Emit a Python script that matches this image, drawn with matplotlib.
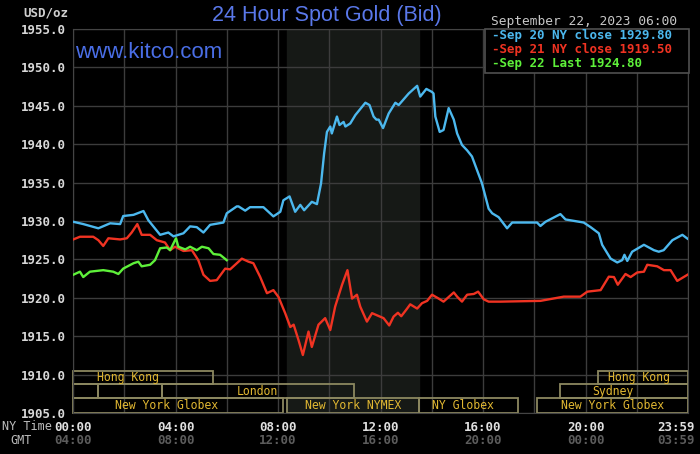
import matplotlib
matplotlib.use('Agg')
import matplotlib.pyplot as plt
from matplotlib.patches import Rectangle
import matplotlib.transforms as mtransforms

# 讀圖估計的數值 (NY time, hours)
blue_h = [0.01, 0.40, 0.99, 1.45, 1.84, 1.96, 2.36, 2.75, 2.94, 3.40, 3.72, 3.92, 4.31, 4.57,
          4.83, 5.09, 5.35, 5.87, 6.00, 6.39, 6.46, 6.72, 6.91, 7.43, 7.82, 8.09, 8.21, 8.45,
          8.67, 8.87, 9.02, 9.32, 9.52, 9.68, 9.80, 9.91, 10.04, 10.10, 10.30, 10.40, 10.56,
          10.63, 10.82, 11.02, 11.41, 11.57, 11.73, 11.84, 11.93, 12.10, 12.32, 12.58, 12.71,
          13.10, 13.43, 13.55, 13.79, 14.01, 14.07, 14.14, 14.31, 14.46, 14.66, 14.86, 14.99,
          15.18, 15.38, 15.57, 15.77, 15.96, 16.22, 16.36, 16.61, 16.94, 17.14, 18.11, 18.24,
          18.44, 19.02, 19.22, 19.93, 20.20, 20.52, 20.65, 20.98, 21.24, 21.43, 21.52, 21.63,
          21.82, 22.28, 22.67, 22.86, 23.05, 23.39, 23.78, 23.98]
blue_p = [1929.9, 1929.6, 1929.05, 1929.7, 1929.6, 1930.65, 1930.8, 1931.3, 1930.1, 1928.2,
          1928.5, 1928.0, 1928.4, 1929.3, 1929.2, 1928.5, 1929.5, 1929.8, 1931.0, 1931.9,
          1931.9, 1931.35, 1931.8, 1931.8, 1930.6, 1931.2, 1932.7, 1933.2, 1931.2, 1932.1,
          1931.4, 1932.5, 1932.2, 1934.9, 1938.8, 1941.6, 1942.3, 1941.4, 1943.6, 1942.5,
          1942.9, 1942.3, 1942.7, 1943.8, 1945.4, 1945.1, 1943.6, 1943.2, 1943.2, 1942.1,
          1944.0, 1945.4, 1945.1, 1946.6, 1947.6, 1946.2, 1947.2, 1946.8, 1946.6, 1943.6,
          1941.6, 1941.85, 1944.7, 1943.2, 1941.4, 1939.9, 1939.2, 1938.4, 1936.6, 1934.9,
          1931.6, 1931.0, 1930.5, 1929.05, 1929.8, 1929.8, 1929.35, 1929.9, 1930.9, 1930.2,
          1929.8, 1929.2, 1928.4, 1926.9, 1925.1, 1924.6, 1924.9, 1925.6, 1924.8, 1926.0,
          1926.9, 1926.2, 1926.0, 1926.2, 1927.5, 1928.2, 1927.7]

red_h = [0.01, 0.27, 0.79, 0.99, 1.18, 1.38, 1.84, 2.10, 2.29, 2.51, 2.68, 3.01, 3.27, 3.59,
         3.79, 3.98, 4.31, 4.64, 4.89, 5.09, 5.35, 5.61, 5.94, 6.13, 6.59, 6.85, 7.04, 7.30,
         7.57, 7.82, 8.02, 8.28, 8.48, 8.61, 8.80, 8.97, 9.19, 9.32, 9.58, 9.84, 10.04, 10.23,
         10.50, 10.71, 10.89, 11.08, 11.21, 11.47, 11.67, 12.12, 12.34, 12.51, 12.68, 12.81,
         13.04, 13.16, 13.43, 13.62, 13.82, 14.01, 14.27, 14.46, 14.66, 14.86, 14.99, 15.18,
         15.38, 15.64, 15.81, 16.03, 16.22, 16.68, 18.24, 19.15, 19.80, 20.07, 20.59, 20.91,
         21.11, 21.26, 21.56, 21.76, 22.02, 22.28, 22.41, 22.80, 23.06, 23.32, 23.58, 23.98]
red_p = [1927.6, 1927.95, 1927.95, 1927.5, 1926.75, 1927.75, 1927.6, 1927.75, 1928.5, 1929.6,
         1928.2, 1928.2, 1927.5, 1927.2, 1926.2, 1926.65, 1926.1, 1926.2, 1924.9, 1923.0,
         1922.2, 1922.3, 1923.8, 1923.7, 1925.1, 1924.7, 1924.5, 1922.75, 1920.6, 1921.0,
         1920.1, 1918.0, 1916.2, 1916.5, 1914.5, 1912.55, 1915.6, 1913.6, 1916.5, 1917.35,
         1915.8, 1918.85, 1921.7, 1923.6, 1919.9, 1920.4, 1918.85, 1916.9, 1918.0, 1917.35,
         1916.4, 1917.55, 1918.05, 1917.6, 1918.6, 1919.15, 1918.6, 1919.3, 1919.6, 1920.4,
         1919.9, 1919.5, 1920.1, 1920.7, 1920.15, 1919.5, 1920.4, 1920.5, 1920.8, 1919.8,
         1919.5, 1919.5, 1919.6, 1920.15, 1920.15, 1920.8, 1921.0, 1922.75, 1922.7, 1921.7,
         1923.1, 1922.7, 1923.3, 1923.4, 1924.3, 1924.1, 1923.6, 1923.6, 1922.2, 1923.0]

green_h = [0.01, 0.27, 0.40, 0.66, 1.18, 1.57, 1.77, 1.96, 2.36, 2.55, 2.68, 3.01, 3.20, 3.40,
           3.66, 3.79, 4.02, 4.11, 4.38, 4.57, 4.83, 5.03, 5.29, 5.48, 5.74, 6.00]
green_p = [1923.0, 1923.4, 1922.7, 1923.4, 1923.6, 1923.4, 1923.1, 1923.8, 1924.5, 1924.7,
           1924.1, 1924.3, 1924.9, 1926.45, 1926.55, 1926.2, 1927.75, 1926.65, 1926.3, 1926.65,
           1926.2, 1926.65, 1926.45, 1925.7, 1925.6, 1924.9]

legend_labels = ['Sep 20 NY close 1929.80', 'Sep 21 NY close 1919.50', 'Sep 22 Last 1924.80']
series_colors = ['#4cb8ee', '#f03322', '#5ef03a']

x_ticks = [0, 4, 8, 12, 16, 20, 24]
ny_labels = ['00:00', '04:00', '08:00', '12:00', '16:00', '20:00', '23:59']
gmt_labels = ['04:00', '08:00', '12:00', '16:00', '20:00', '00:00', '03:59']

# 交易時段: (row, start, end, label, label_x)
sessions = [
    (0, 0.0, 5.47, 'Hong Kong', 2.15),
    (0, 20.5, 24.0, 'Hong Kong', 22.1),
    (1, 0.0, 0.97, '', 0),
    (1, 0.97, 3.48, '', 0),
    (1, 3.48, 10.98, 'London', 7.19),
    (1, 19.0, 24.0, 'Sydney', 21.05),
    (2, 0.0, 8.2, 'New York Globex', 3.67),
    (2, 8.36, 13.5, 'New York NYMEX', 10.94),
    (2, 13.5, 17.38, 'NY Globex', 15.23),
    (2, 18.12, 24.0, 'New York Globex', 21.05),
]
row_edges = [1910.5, 1908.8, 1906.9, 1905.0]

mono = 'DejaVu Sans Mono'

fig = plt.figure(figsize=(7, 4.54), dpi=100, facecolor='black')
ax = fig.add_axes([73 / 700, 41 / 454, 615 / 700, 384 / 454])
ax.set_facecolor('black')

# NYMEX 時段陰影
ax.axvspan(8.36, 13.5, color='#161916', zorder=0)

for x in range(0, 25, 2):
    ax.axvline(x, color='#3c3c3c', lw=1, zorder=1)
for y in range(1905, 1956, 5):
    ax.axhline(y, color='#3c3c3c', lw=1, zorder=1)

for h, p, c in zip([blue_h, red_h, green_h], [blue_p, red_p, green_p], series_colors):
    ax.plot(h, p, color=c, lw=1.7, zorder=3)

for row, s, e, lab, lx in sessions:
    y0, y1 = row_edges[row + 1], row_edges[row]
    ax.add_patch(Rectangle((s, y0), e - s, y1 - y0, fill=False, edgecolor='#8c8860',
                           lw=1.3, zorder=2, clip_on=False))
    if lab:
        ax.text(lx, (y0 + y1) / 2, lab, color='#e2b832', fontsize=8.3, family=mono,
                ha='center', va='center', zorder=4)

ax.set_xlim(0, 24)
ax.set_ylim(1905, 1955)
ax.set_yticks(range(1905, 1956, 5))
ax.set_yticklabels(['%.1f' % v for v in range(1905, 1956, 5)])
ax.set_xticks(x_ticks)
ax.set_xticklabels(ny_labels)
ax.tick_params(length=0, colors='#d8d8d8', labelsize=9, pad=5)
ax.tick_params(axis='x', pad=6, colors='#e0e0e0')
for t in ax.get_xticklabels() + ax.get_yticklabels():
    t.set_family(mono)
    t.set_fontweight('bold')
last = ax.get_xticklabels()[-1]
last.set_horizontalalignment('right')
last.set_transform(last.get_transform() + mtransforms.ScaledTranslation(7 / 100, 0, fig.dpi_scale_trans))
for sp in ax.spines.values():
    sp.set_color('#444444')

# GMT 時間
trans = mtransforms.blended_transform_factory(ax.transData, fig.transFigure)
for i, (x, lab) in enumerate(zip(x_ticks, gmt_labels)):
    ha = 'right' if i == len(x_ticks) - 1 else 'center'
    off = mtransforms.ScaledTranslation(7 / 100 if ha == 'right' else 0, 0, fig.dpi_scale_trans)
    ax.text(x, 1 - 441 / 454, lab, transform=trans + off, color='#5c5c5c', fontsize=9,
            family=mono, fontweight='bold', ha=ha, va='center', clip_on=False)

fig.text(2 / 700, 1 - 427 / 454, 'NY Time', color='#bcbcbc', fontsize=8.5, family=mono,
         ha='left', va='center')
fig.text(21 / 700, 1 - 441 / 454, 'GMT', color='#bcbcbc', fontsize=8.5, family=mono,
         ha='center', va='center')
fig.text(68 / 700, 1 - 13 / 454, 'USD/oz', color='#d0d0d0', fontsize=9, family=mono,
         fontweight='bold', ha='right', va='center')

fig.text(327 / 700, 1 - 16 / 454, '24 Hour Spot Gold (Bid)', color='#5a78ea', fontsize=15.5,
         family='Liberation Sans', ha='center', va='center')
fig.text(75 / 700, 1 - 52 / 454, 'www.kitco.com', color='#4a6ee6', fontsize=16,
         family='Liberation Sans', ha='left', va='center')

fig.text(584 / 700, 1 - 21 / 454, 'September 22, 2023 06:00', color='#c8c8c8', fontsize=9.3,
         family=mono, ha='center', va='center')

# 圖例框
fig.add_artist(Rectangle((485 / 700, 1 - 73 / 454), 204 / 700, 44 / 454, transform=fig.transFigure,
                         facecolor='black', edgecolor='#505050', lw=1.2, zorder=5))
for i, (lab, c) in enumerate(zip(legend_labels, series_colors)):
    fig.text(492 / 700, 1 - (36 + 14 * i) / 454, '-' + lab, color=c, fontsize=9, family=mono,
             fontweight='bold', ha='left', va='center', zorder=6)

fig.savefig('out.png', dpi=100, facecolor='black')
